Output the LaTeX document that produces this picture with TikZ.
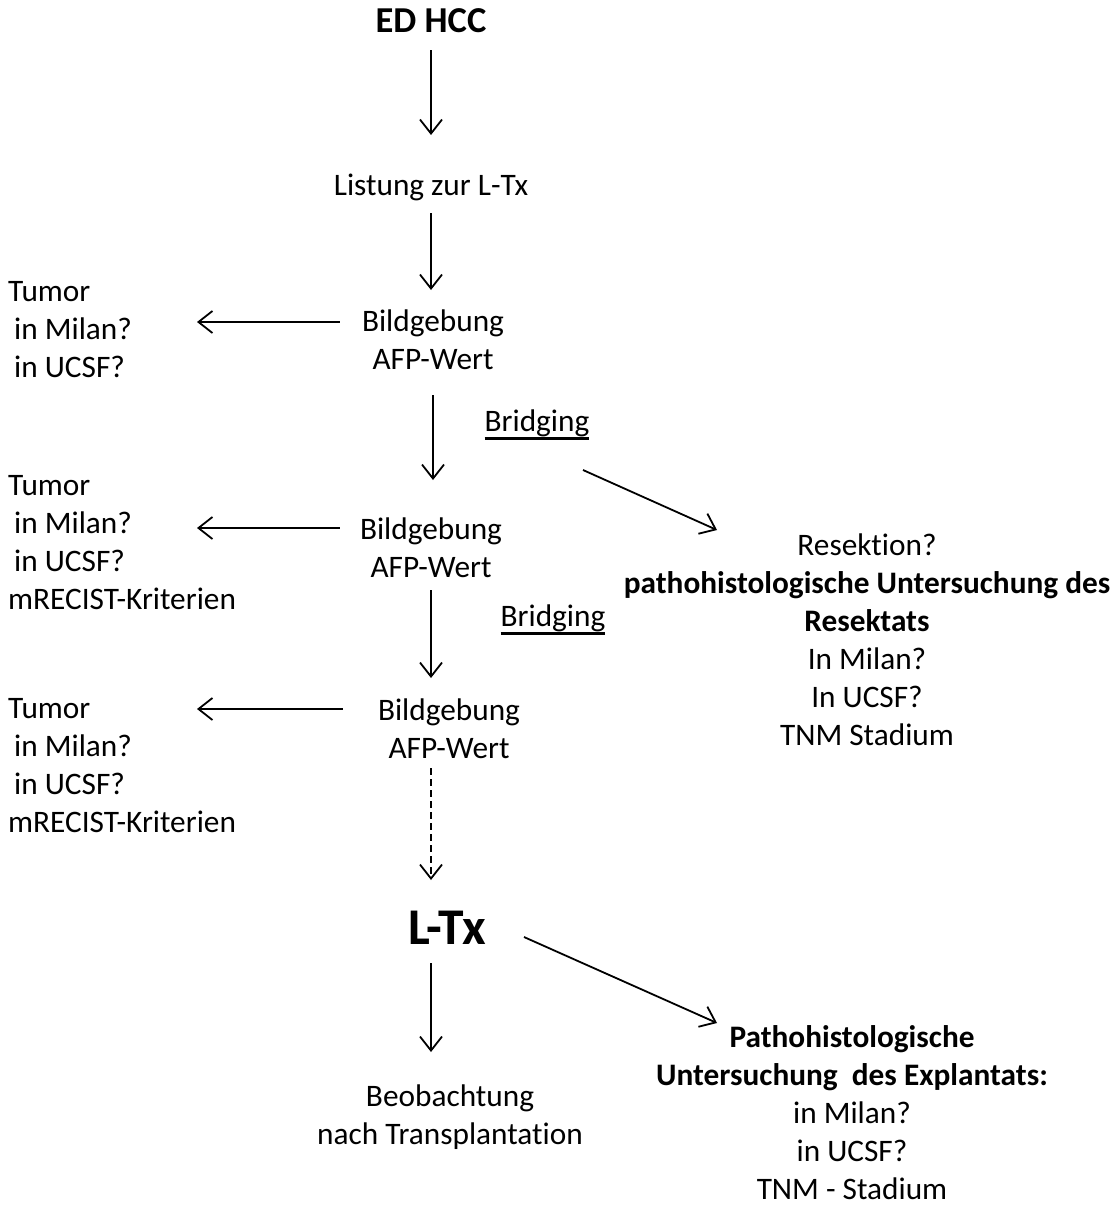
\documentclass[tikz,border=0pt]{standalone}
\usepackage{fontspec}
\setmainfont{Carlito}[Ligatures={NoCommon}]
\usetikzlibrary{arrows.meta}
\newcommand{\bridgeul}[1]{\setbox0\hbox{#1}\leavevmode\rlap{\rule[-9pt]{\wd0}{3.5pt}}\box0}
\tikzset{
x=1pt, y=-1pt, % pixel like units, y grows downwards
every node/.style={inner sep=0pt, align=center, font=\fontsize{31.3}{38}\selectfont},
arr/.style={-{Straight Barb[length=14pt,width=22pt]}, line width=1.8pt}, % open arrow heads
crit/.style={anchor=west, align=left}, % the criteria lists on the left
head/.style={font=\fontsize{36.5}{40}\selectfont\bfseries},
}
\begin{document}
\begin{tikzpicture}
    \useasboundingbox (0,0) rectangle (1115,1205);
    % main column
    \node[head] (ed) at (431,21) {ED HCC};
    \node (list) at (431,187) {Listung zur L-Tx};
    \node (bild1) at (433,340) {Bildgebung\\AFP-Wert};
    \node (bild2) at (431,548) {Bildgebung\\AFP-Wert};
    \node (bild3) at (449,729) {Bildgebung\\AFP-Wert};
    \node[font=\fontsize{51.5}{55}\selectfont\bfseries] (ltx) at (447,928) {L-Tx};
    \node (beob) at (450,1117) {Beobachtung\\nach Transplantation};
    % left side
    \node[crit] (tumor1) at (8,330) {Tumor\\\hspace*{6pt}in Milan?\\\hspace*{6pt}in UCSF?};
    \node[crit] (tumor2) at (8,543) {Tumor\\\hspace*{6pt}in Milan?\\\hspace*{6pt}in UCSF?\\mRECIST-Kriterien};
    \node[crit] (tumor3) at (8,766) {Tumor\\\hspace*{6pt}in Milan?\\\hspace*{6pt}in UCSF?\\mRECIST-Kriterien};
    % right side
    \node (bridge1) at (537,425) {\bridgeul{Bridging}};
    \node (bridge2) at (553,620) {\bridgeul{Bridging}};
    \node (resek) at (867,640) {Resektion?\\\textbf{pathohistologische Untersuchung des}\\\textbf{Resektats}\\In Milan?\\In UCSF?\\TNM Stadium};
    \node (patho) at (852,1113) {\textbf{Pathohistologische}\\\textbf{Untersuchung~ des Explantats:}\\in Milan?\\in UCSF?\\TNM - Stadium};

    \draw[arr, shorten <=29pt, shorten >=52pt] (ed.center) -- (list.center);
    \draw[arr, shorten <=26pt, shorten >=50pt] (list.center) -- (list.center |- bild1.center);
    \draw[arr, shorten <=55pt, shorten >=68pt] (bild1.center) -- (bild1.center |- bild2.center);
    \draw[arr, shorten <=42pt, shorten >=51pt] (bild2.center) -- (bild2.center |- bild3.center);
    \draw[arr, dashed, dash pattern=on 7pt off 4pt, shorten <=39pt, shorten >=48pt] (bild2.center |- bild3.center) -- (bild2.center |- ltx.center);
    \draw[arr, shorten <=35pt, shorten >=65pt] (bild2.center |- ltx.center) -- (bild2.center |- beob.center);

    \draw[arr] ([xshift=-22pt,yshift=18pt]bild1.west) -- ([xshift=189pt,yshift=8pt]tumor1.west);
    \draw[arr] ([xshift=-20pt,yshift=20pt]bild2.west) -- ([xshift=189pt,yshift=15pt]tumor2.west);
    \draw[arr] ([xshift=-35pt,yshift=20pt]bild3.west) -- ([xshift=189pt,yshift=57pt]tumor3.west);

    \draw[arr] ([xshift=46pt,yshift=-45pt]bridge1.center) -- ([xshift=-150pt,yshift=110pt]resek.center);
    \draw[arr] ([xshift=77pt,yshift=-9pt]ltx.center) -- ([xshift=-135pt,yshift=90pt]patho.center);
\end{tikzpicture}
\end{document}
